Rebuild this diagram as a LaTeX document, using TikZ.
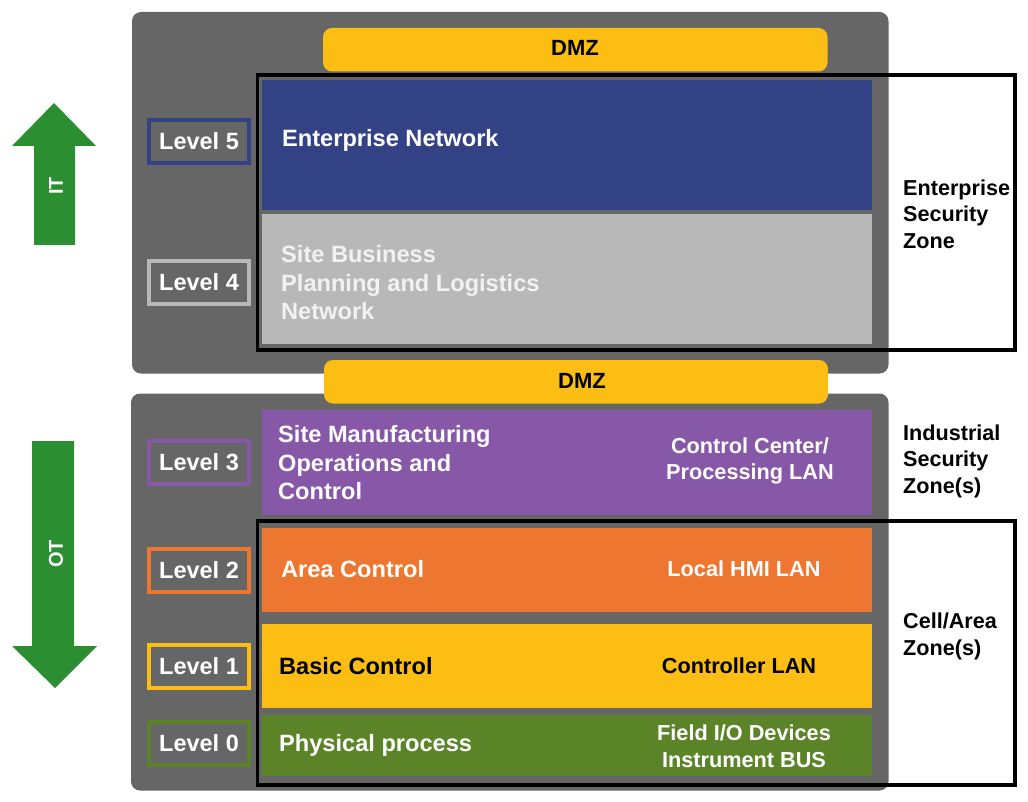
\documentclass[tikz,border=0pt]{standalone}
\usepackage{fontspec}
\setmainfont{Liberation Sans}
\definecolor{panel}{HTML}{666666}
\definecolor{entblue}{HTML}{334284}
\definecolor{sitegray}{HTML}{B8B8B8}
\definecolor{dmzyellow}{HTML}{FCBE12}
\definecolor{lvpurple}{HTML}{8757A8}
\definecolor{lvorange}{HTML}{ED7631}
\definecolor{lvgreen}{HTML}{5B8428}
\definecolor{arrowgreen}{HTML}{2B8E31}
\tikzset{
  x=1pt,y=-1pt,
  panelbox/.style={fill=panel,rounded corners=9pt},
  dmzbox/.style={fill=dmzyellow,rounded corners=9pt},
  lvbox/.style={draw=#1,line width=4pt,fill=panel,minimum width=100pt,minimum height=43pt,inner sep=0pt,
     text=white,font=\fontsize{23.5}{26}\selectfont\bfseries},
  mainlabel/.style={anchor=west,align=left,inner sep=0pt,font=\fontsize{23.6}{28.5}\selectfont\bfseries},
  lanlabel/.style={align=center,inner sep=0pt,font=\fontsize{21.7}{26.5}\selectfont\bfseries},
  zonelabel/.style={anchor=west,align=left,inner sep=0pt,font=\fontsize{21.6}{26.5}\selectfont\bfseries},
  zonebox/.style={draw=black,line width=3.5pt},
  arrowshape/.style={fill=arrowgreen},
}
\begin{document}
\begin{tikzpicture}
\useasboundingbox (0,0) rectangle (1028,802);
% gray panels
\fill[panelbox] (132,12) rectangle (888.5,373.5);
\fill[panelbox] (131,393.5) rectangle (888.5,790.5);
% DMZ
\fill[dmzbox] (323,28) rectangle (827.5,71.5);
\node[font=\fontsize{22}{26}\selectfont\bfseries] (dmz1) at (575,48) {DMZ};
\fill[dmzbox] (324,360) rectangle (828,403.5);
\node[font=\fontsize{22}{26}\selectfont\bfseries] (dmz2) at (582,381) {DMZ};
% bands
\fill[entblue] (262,80) rectangle (872,210);
\fill[sitegray] (262,214) rectangle (872,343.5);
\fill[lvpurple] (262,409.5) rectangle (871.5,515);
\fill[lvorange] (262,527.5) rectangle (872,611.5);
\fill[dmzyellow] (262,623.5) rectangle (872,707.5);
\fill[lvgreen] (262,715) rectangle (872,775.5);
% band labels
\node[mainlabel,text=white] (l5t) at (282,140) {Enterprise Network};
\node[mainlabel,text=white!95!black] (l4t) at (281,283) {Site Business\\Planning and Logistics\\Network};
\node[mainlabel,text=white] (l3t) at (278,463) {Site Manufacturing\\Operations and\\Control};
\node[lanlabel,text=white] (l3r) at (750,461) {Control Center/\\Processing LAN};
\node[mainlabel,text=white] (l2t) at (281,569) {Area Control};
\node[lanlabel,text=white] (l2r) at (744,569) {Local HMI LAN};
\node[mainlabel,text=black] (l1t) at (279,666) {Basic Control};
\node[lanlabel,text=black] (l1r) at (739,666) {Controller LAN};
\node[mainlabel,text=white] (l0t) at (279,745) {Physical process};
\node[lanlabel,text=white] (l0r) at (744,746) {Field I/O Devices\\Instrument BUS};
% level boxes
\node[lvbox=entblue] (lv5) at (199,141.5) {Level 5};
\node[lvbox=sitegray] (lv4) at (199,282.5) {Level 4};
\node[lvbox=lvpurple] (lv3) at (199,462) {Level 3};
\node[lvbox=lvorange] (lv2) at (199,570) {Level 2};
\node[lvbox=dmzyellow] (lv1) at (199,666) {Level 1};
\node[lvbox=lvgreen] (lv0) at (199,743) {Level 0};
% zone boxes
\draw[zonebox] (257.5,75) rectangle (1015,350);
\draw[zonebox] (257.5,521) rectangle (1015,785);
% zone labels
\node[zonelabel] (z1) at (903,214) {Enterprise\\Security\\Zone};
\node[zonelabel] (z2) at (903,461) {Industrial\\Security\\Zone(s)};
\node[zonelabel] (z3) at (903,636.5) {Cell/Area\\Zone(s)};
% arrows
\fill[arrowshape] (34,245) -- (34,146) -- (12,146) -- (54,103) -- (96,146) -- (75,146) -- (75,245) -- cycle;
\node[rotate=90,text=white,font=\fontsize{20}{22}\selectfont\bfseries] (it) at (56,186) {IT};
\fill[arrowshape] (32,441) -- (74,441) -- (74,646) -- (97,646) -- (55,688) -- (12,646) -- (32,646) -- cycle;
\node[rotate=90,text=white,font=\fontsize{20}{22}\selectfont\bfseries] (ot) at (56,554) {OT};
\end{tikzpicture}
\end{document}
